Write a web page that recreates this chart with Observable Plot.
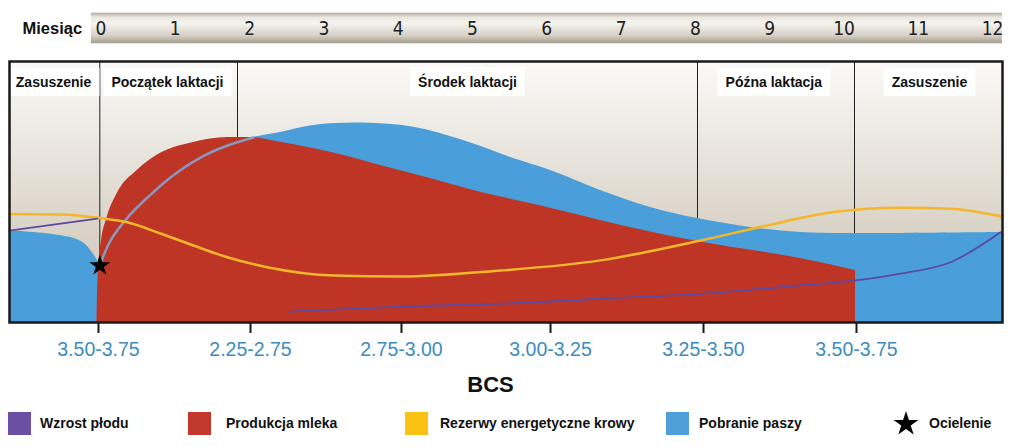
<!DOCTYPE html>
<html>
<head>
<meta charset="utf-8">
<script src="https://cdn.jsdelivr.net/npm/d3@7"></script>
<script src="https://cdn.jsdelivr.net/npm/@observablehq/plot@0.6"></script>
<style>
  body { margin: 0; background: #fff; font-family: "Liberation Sans", Arial, sans-serif; }
  #legend { position: relative; width: 1023px; height: 47px; }
  .sw { position: absolute; top: 11.5px; width: 23px; height: 23px; }
  .lt { position: absolute; top: 14px; font-weight: bold; font-size: 14px; color: #111; white-space: nowrap; line-height: 18px; }
</style>
</head>
<body>
<div id="chart"></div>
<div id="legend"></div>
<script>
// ---- data (x in months from calving, y in relative units 0-100) ----
const months = [0, 1, 2, 3, 4, 5, 6, 7, 8, 9, 10, 11, 12];
const phaseLabels = ["Zasuszenie", "Początek laktacji", "Środek laktacji", "Późna laktacja", "Zasuszenie"];
const phaseCenters = [-0.639, 0.894, 4.933, 9.055, 11.15];
const phaseBounds = [-0.016, 1.837, 8.028, 10.141];
const bcsPositions = [-0.034, 2.012, 4.044, 6.050, 8.109, 10.168];
const bcsLabels = ["3.50-3.75", "2.25-2.75", "2.75-3.00", "3.00-3.25", "3.25-3.50", "3.50-3.75"];
const feedIntake = [
  [-1.232, 35.2], [-0.545, 33.3], [-0.249, 30.7], [-0.047, 23.8], [-0.016, 21.8],
  [0.128, 31.4], [0.357, 40.2], [0.626, 47.9], [0.935, 55.6], [1.339, 63.2],
  [1.703, 67.8], [2.052, 70.9], [2.416, 72.8], [2.86, 75.5], [3.533, 76.4],
  [4.206, 74.8], [4.879, 69.7], [5.552, 62.8], [6.05, 58.2], [6.723, 50.6],
  [7.396, 44.1], [8.028, 39.8], [8.742, 36.4], [9.415, 34.5], [10.128, 34.1],
  [12.106, 34.5], [12.133, 34.5]
];
const milkProduction = [
  [-0.054, 0], [-0.047, 11.5], [-0.027, 23.0], [0.007, 31.4], [0.083, 40.2],
  [0.218, 49.4], [0.487, 58.2], [0.801, 64.8], [1.245, 69.0], [1.703, 70.9],
  [1.972, 70.9], [2.416, 69.1], [3.089, 65.2], [3.762, 60.2], [4.435, 55.2],
  [5.108, 49.9], [5.781, 45.6], [6.454, 41.0], [6.723, 39.1], [8.07, 30.8],
  [9.415, 24.5], [10.155, 19.9]
];
const energyReserves = [
  [-1.232, 41.6], [-0.545, 41.4], [-0.007, 40.0], [0.353, 38.4], [0.801, 34.1],
  [1.245, 29.5], [1.699, 25.0], [2.237, 21.2], [3.129, 18.0], [4.031, 17.6],
  [5.377, 19.9], [6.723, 23.8], [8.069, 31.4], [8.966, 37.2], [9.859, 42.3],
  [10.761, 44.0], [11.434, 43.6], [12.133, 40.6]
];
const fetalGrowthBefore = [[-1.232, 35.2], [-0.047, 39.8]];
const fetalGrowthAfter = [
  [2.55, 4.2], [4.031, 6.1], [5.377, 7.2], [6.723, 9.1], [8.069, 11.0],
  [9.415, 14.2], [10.155, 16.1], [10.761, 18.7], [11.434, 23.1], [12.106, 34.6]
];
const calving = [[-0.016, 21.8]];
const headerBar = [{x1: -0.13, x2: 12.133, y1: 106.8, y2: 118.5}];
const legendLabels = ["Wzrost płodu", "Produkcja mleka", "Rezerwy energetyczne krowy", "Pobranie paszy", "Ocielenie"];

// ---- styles ----
const BLUE = "#4a9fda", RED = "#be3526", YELLOW = "#f5b62a", PURPLE = "#5b4aa0";
const legendColors = ["#6a4fa3", "#c0392b", "#fbc113", "#4e9fd9", null];
const FONT = "'Liberation Sans', Arial, sans-serif";
const NARROW = "'Liberation Sans Narrow', 'Arial Narrow', 'DejaVu Sans Condensed', sans-serif";
const bcsMap = new Map(bcsPositions.map((p, i) => [p, bcsLabels[i]]));
const X = d => d[0], Y = d => d[1];

const chart = Plot.plot({
  width: 1023,
  height: 400,
  marginLeft: 9, marginRight: 21, marginTop: 61, marginBottom: 78,
  x: {domain: [-1.2315, 12.133], axis: null},
  y: {domain: [0, 100], axis: null},
  style: {fontFamily: FONT, background: "white", overflow: "visible"},
  marks: [
    // header bar with months
    Plot.rect(headerBar, {x1: "x1", x2: "x2", y1: "y1", y2: "y2", fill: "url(#hdrGrad)"}),
    Plot.text(["Miesiąc"], {frameAnchor: "top-left", textAnchor: "start", lineAnchor: "middle", dx: 13, dy: -32.5, fontSize: 16.5, fontWeight: "bold", fill: "#111"}),
    Plot.text(months, {x: d => d, frameAnchor: "top", lineAnchor: "middle", dy: -33, fontSize: 19, fontFamily: NARROW, fill: "#222"}),
    // panel
    Plot.frame({fill: "url(#panelGrad)"}),
    Plot.ruleX(phaseBounds, {stroke: "#222", strokeWidth: 1}),
    Plot.areaY(feedIntake, {x: X, y: Y, fill: BLUE, curve: "catmull-rom"}),
    Plot.areaY(milkProduction, {x: X, y: Y, fill: RED, curve: "monotone-x"}),
    Plot.line(feedIntake.filter(d => d[0] >= -0.02 && d[0] <= 2.06), {x: X, y: Y, stroke: "#8898bf", strokeWidth: 2.5, curve: "catmull-rom"}),
    Plot.line(energyReserves, {x: X, y: Y, stroke: YELLOW, strokeWidth: 2.5, curve: "monotone-x"}),
    Plot.line(fetalGrowthBefore, {x: X, y: Y, stroke: PURPLE, strokeWidth: 1.6}),
    Plot.line(fetalGrowthAfter, {x: X, y: Y, stroke: PURPLE, strokeWidth: 1.8, curve: "monotone-x"}),
    Plot.dot(calving, {x: X, y: Y, symbol: "star", r: 6.6, fill: "black", stroke: "none"}),
    Plot.text(phaseLabels, {x: phaseCenters, frameAnchor: "top", lineAnchor: "middle", dy: 21, fontSize: 14, fontWeight: "bold", fill: "#111"}),
    // BCS axis
    Plot.axisX(bcsPositions, {anchor: "bottom", tickSize: 11, tickPadding: 9, tickFormat: d => bcsMap.get(d),
      fontSize: 19.5, stroke: "#1a1a1a", strokeWidth: 2, fill: "#3d8bc1"}),
    Plot.text(["BCS"], {frameAnchor: "bottom", lineAnchor: "middle", dx: -15.5, dy: 62, fontSize: 22, fontWeight: "bold", fill: "#111"}),
    Plot.frame({stroke: "#1a1a1a", strokeWidth: 2.5})
  ]
});

document.getElementById("chart").appendChild(chart);

// gradients
const NS = "http://www.w3.org/2000/svg";
const defs = document.createElementNS(NS, "defs");
defs.innerHTML = `
  <linearGradient id="hdrGrad" x1="0" y1="0" x2="0" y2="1">
    <stop offset="0" stop-color="#b3ab9c"/>
    <stop offset="0.15" stop-color="#ebe7e0"/>
    <stop offset="0.35" stop-color="#f6f4ef"/>
    <stop offset="0.75" stop-color="#d6d0c6"/>
    <stop offset="1" stop-color="#a39b8b"/>
  </linearGradient>
  <linearGradient id="panelGrad" x1="0" y1="0" x2="0" y2="1">
    <stop offset="0" stop-color="#fbfaf8"/>
    <stop offset="0.6" stop-color="#dcd5ca"/>
    <stop offset="1" stop-color="#cdc4b6"/>
  </linearGradient>`;
chart.insertBefore(defs, chart.firstChild);

// white boxes behind phase labels
chart.querySelectorAll("text").forEach(t => {
  if (!phaseLabels.includes(t.textContent)) return;
  const b = t.getBBox();
  const r = document.createElementNS(NS, "rect");
  r.setAttribute("x", b.x - 8);
  r.setAttribute("y", b.y - 6);
  r.setAttribute("width", b.width + 16);
  r.setAttribute("height", b.height + 12);
  r.setAttribute("fill", "#ffffff");
  if (t.getAttribute("transform")) r.setAttribute("transform", t.getAttribute("transform"));
  t.parentNode.insertBefore(r, t);
});

// legend
const legend = document.getElementById("legend");
const swatchLeft = [8, 188, 405, 666, 893];
const textLeft = [40, 226, 440, 699, 929];
legendLabels.forEach((lab, i) => {
  if (legendColors[i]) {
    const s = document.createElement("div");
    s.className = "sw";
    s.style.left = swatchLeft[i] + "px";
    s.style.background = legendColors[i];
    legend.appendChild(s);
  } else {
    const svg = document.createElementNS(NS, "svg");
    svg.setAttribute("width", 26); svg.setAttribute("height", 26);
    svg.style.position = "absolute"; svg.style.left = swatchLeft[i] + "px"; svg.style.top = "10px";
    const p = document.createElementNS(NS, "path");
    p.setAttribute("d", d3.symbol(d3.symbolStar, 192)());
    p.setAttribute("transform", "translate(13,14)");
    p.setAttribute("fill", "#000");
    svg.appendChild(p);
    legend.appendChild(svg);
  }
  const t = document.createElement("div");
  t.className = "lt";
  t.style.left = textLeft[i] + "px";
  t.textContent = lab;
  legend.appendChild(t);
});
</script>
</body>
</html>
